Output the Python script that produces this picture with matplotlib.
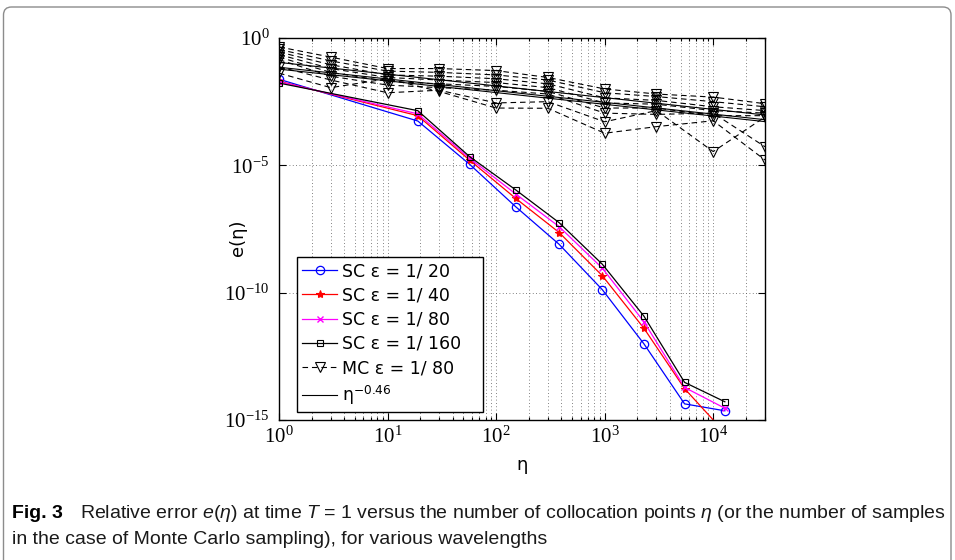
import matplotlib
matplotlib.use('Agg')
import matplotlib.pyplot as plt
import numpy as np
from matplotlib.patches import FancyBboxPatch
from matplotlib.ticker import NullLocator, LogLocator


# sparse grid sizes (stochastic collocation) and Monte Carlo sample counts
sc_eta = [1, 19, 57, 151, 381, 953, 2300, 5450, 12800]
mc_eta = [1, 3, 10, 30, 100, 300, 1000, 3000, 10000, 30000]

sc_err_20 = [2.4e-2, 5.5e-4, 1.1e-5, 2.4e-7, 7.9e-9, 1.3e-10, 9.8e-13, 4.3e-15, 2.3e-15]
sc_err_40 = [2.0e-2, 8.9e-4, 1.6e-5, 5.1e-7, 2.3e-8, 4.6e-10, 4.0e-12, 1.7e-14, 3.2e-16]
sc_err_80 = [1.9e-2, 1.05e-3, 1.9e-5, 7.6e-7, 3.9e-8, 9.1e-10, 7.2e-12, 1.9e-14, 2.9e-15]
sc_err_160 = [1.7e-2, 1.4e-3, 2.2e-5, 1.1e-6, 5.6e-8, 1.3e-9, 1.2e-11, 3.0e-14, 5.2e-15]

# log10 of the MC error, one row per realisation
mc_log_err = [
    [-0.35, -0.75, -1.20, -1.20, -1.28, -1.55, -2.00, -2.20, -2.32, -2.58],
    [-0.45, -0.90, -1.30, -1.35, -1.45, -1.65, -2.15, -2.30, -2.50, -2.70],
    [-0.55, -1.05, -1.45, -1.50, -1.60, -1.80, -2.35, -2.45, -2.70, -2.85],
    [-0.65, -1.20, -1.55, -1.65, -1.75, -1.95, -2.55, -2.60, -2.85, -2.95],
    [-0.75, -1.35, -1.70, -1.80, -1.90, -2.10, -2.75, -2.75, -3.05, -3.05],
    [-0.85, -1.50, -1.85, -1.95, -2.05, -2.20, -2.95, -3.00, -2.95, -4.27],
    [-1.13, -1.65, -2.15, -2.05, -2.55, -2.50, -3.29, -2.85, -4.46, -3.10],
    [-1.38, -1.95, -1.60, -2.10, -2.75, -2.76, -3.74, -3.48, -3.25, -4.79],
]

# reference slopes eta^-0.46, end points
fit_eta = [1, 30000]
fit_err = [
    [1.1e-1, 9.5e-4],
    [7.1e-2, 6.2e-4],
    [6.0e-2, 5.2e-4],
]

sc_labels = ['SC ε = 1/ 20', 'SC ε = 1/ 40', 'SC ε = 1/ 80', 'SC ε = 1/ 160   ']
y_ticks = [1e-15, 1e-10, 1e-5, 1e0]
y_tick_labels = [r'$\mathregular{10^{-15}}$', r'$\mathregular{10^{-10}}$',
                 r'$\mathregular{10^{-5}}$', r'$\mathregular{10^{0}}$']
x_ticks = [1e0, 1e1, 1e2, 1e3, 1e4]
x_tick_labels = [r'$\mathregular{10^{%d}}$' % k for k in range(5)]

plt.rcParams['mathtext.fontset'] = 'custom'
plt.rcParams['mathtext.rm'] = 'Liberation Sans'
plt.rcParams['mathtext.it'] = 'Liberation Sans:italic'
plt.rcParams['mathtext.bf'] = 'Liberation Sans:bold'

W, H = 955, 560
fig = plt.figure(figsize=(W / 100, H / 100), dpi=100)
ax = fig.add_axes([279 / W, 1 - 420 / H, (765 - 279) / W, (420 - 38) / H])
ax.set_xscale('log')
ax.set_yscale('log')

styles = [
    dict(color='blue', marker='o', ms=6, mfc='none', mew=0.9),
    dict(color='red', marker='*', ms=6, mew=0.8),
    dict(color='magenta', marker='x', ms=4.5, mew=1.0),
    dict(color='black', marker='s', ms=4.5, mfc='none', mew=0.8),
]
for err, lab, st in zip([sc_err_20, sc_err_40, sc_err_80, sc_err_160], sc_labels, styles):
    ax.plot(sc_eta, err, lw=0.9, label=lab, **st)

for i, row in enumerate(mc_log_err):
    ax.plot(mc_eta, 10.0 ** np.array(row), color='black', lw=0.8, dashes=(5, 3.5),
            marker='v', ms=6.5, mfc='none', mew=0.8,
            label='MC ε = 1/ 80' if i == 0 else '_nolegend_')

for i, row in enumerate(fit_err):
    ax.plot(fit_eta, row, color='black', lw=0.8,
            label=r'η$^{\mathregular{-0.46}}$' if i == 0 else '_nolegend_')

ax.set_xlim(1, 3e4)
ax.set_ylim(1e-15, 1)
ax.set_yticks(y_ticks)
ax.set_yticklabels(y_tick_labels, family='Liberation Serif', fontsize=15)
ax.yaxis.set_minor_locator(NullLocator())
ax.set_xticks(x_ticks)
ax.set_xticklabels(x_tick_labels, family='Liberation Serif', fontsize=15)
ax.xaxis.set_minor_locator(LogLocator(base=10, subs=np.arange(2, 10), numticks=20))
ax.tick_params(which='both', direction='in', top=True, right=True, width=0.8)
ax.tick_params(which='major', length=5, pad=7)
ax.tick_params(which='minor', length=2.5)
ax.tick_params(axis='x', which='major', pad=5)

grid_kw = dict(color='0.35', lw=0.6, linestyle=(0, (1, 3)))
ax.grid(True, which='major', **grid_kw)
ax.grid(True, which='minor', axis='x', **grid_kw)
for sp in ax.spines.values():
    sp.set_linewidth(1.0)

ax.set_xlabel('η', fontsize=13, family='DejaVu Sans')
ax.xaxis.set_label_coords(0.5, -0.095)
ax.set_ylabel('e(η)', fontsize=13, family='DejaVu Sans')
ax.yaxis.set_label_coords(-0.066, 0.476)

leg = ax.legend(loc='lower left', bbox_to_anchor=(0.037, 0.021), borderaxespad=0,
                fancybox=False, framealpha=1, edgecolor='black',
                prop={'family': 'DejaVu Sans', 'size': 12.5},
                handlelength=2.0, handletextpad=0.3, labelspacing=0.36,
                borderpad=0.3)
leg.get_frame().set_linewidth(1.0)

# caption frame with rounded top corners
frame = FancyBboxPatch((0.035, -0.3), 9.475, 5.83,
                       boxstyle='round,pad=0,rounding_size=0.08',
                       transform=fig.dpi_scale_trans, fill=False,
                       edgecolor='0.55', lw=1.0)
fig.patches.append(frame)

fig.text(12 / W, 1 - 514 / H, 'Fig. 3', fontsize=14, fontweight='bold',
         family='Liberation Sans', va='center', ha='left')
fig.text(80 / W, 1 - 514 / H,
         r'Relative error $e(\eta)$ at time $T$ = 1 versus the number of collocation points $\eta$ (or the number of samples',
         fontsize=14, family='Liberation Sans', va='center', ha='left', color='0.1')
fig.text(12 / W, 1 - 539 / H,
         'in the case of Monte Carlo sampling), for various wavelengths',
         fontsize=14, family='Liberation Sans', va='center', ha='left', color='0.1')

fig.savefig('out.png', dpi=100)
